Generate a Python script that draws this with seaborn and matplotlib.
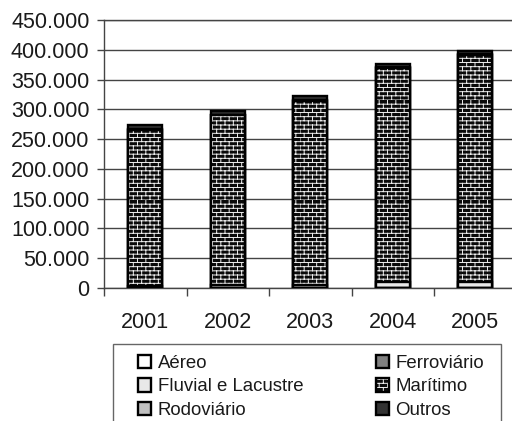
import warnings
import numpy as np
import matplotlib
matplotlib.use("Agg")
import matplotlib.pyplot as plt
import matplotlib.hatch as mhatch
from matplotlib.path import Path
from matplotlib.patches import Rectangle
from matplotlib.ticker import FuncFormatter, FixedLocator
import seaborn as sns

warnings.filterwarnings("ignore")

# ---- data (toneladas) ----
anos = ["2001", "2002", "2003", "2004", "2005"]
aereo = [200, 200, 200, 200, 200]
ferroviario = [500, 500, 500, 500, 500]
fluvial = [3000, 4000, 5000, 9000, 9000]
maritimo = [262000, 285000, 309000, 359000, 381000]
rodoviario = [1500, 1500, 1500, 2000, 2000]
outros = [6000, 6000, 6000, 6000, 6000]

series = [
    ("Aéreo", aereo, "#ffffff"),
    ("Ferroviário", ferroviario, "#808080"),
    ("Fluvial e Lacustre", fluvial, "#e8e8e8"),
    ("Marítimo", maritimo, "#0a0a0a"),
    ("Rodoviário", rodoviario, "#c0c0c0"),
    ("Outros", outros, "#333333"),
]
yticks = [0, 50000, 100000, 150000, 200000, 250000, 300000, 350000, 400000, 450000]


# brick texture used for the "Marítimo" series
class BrickHatch(mhatch.HatchPatternBase):
    def __init__(self, hatch, density):
        self.rows = 24 if "b" in hatch else 0
        self.cols = 12
        self.num_vertices = self.rows * (1 + self.cols) * 2

    def set_vertices_and_codes(self, vertices, codes):
        i = 0
        for r in range(self.rows):
            y0 = r / self.rows
            y1 = (r + 1) / self.rows
            vertices[i] = (0.0, y0)
            vertices[i + 1] = (1.0, y0)
            codes[i] = Path.MOVETO
            codes[i + 1] = Path.LINETO
            i += 2
            off = 0.5 / self.cols if r % 2 else 0.0
            for c in range(self.cols):
                x = c / self.cols + off
                vertices[i] = (x, y0)
                vertices[i + 1] = (x, y1)
                codes[i] = Path.MOVETO
                codes[i + 1] = Path.LINETO
                i += 2


mhatch._hatch_types.append(BrickHatch)

sns.set_theme(style="white")
plt.rcParams["font.family"] = ["Liberation Sans", "DejaVu Sans"]
plt.rcParams["hatch.linewidth"] = 0.7

fig = plt.figure(figsize=(5.12, 4.21), dpi=100)
ax = fig.add_axes([104 / 512, 1 - 288 / 421, 412.5 / 512, 268 / 421])

# stacked bars: draw cumulative totals from the top segment down
cum = np.cumsum([np.array(v, dtype=float) for _, v, _ in series], axis=0)
handles = {}
for k in range(len(series) - 1, -1, -1):
    name, _, col = series[k]
    n_before = len(ax.patches)
    sns.barplot(x=anos, y=cum[k], color=col, saturation=1, width=0.41,
                edgecolor="black", linewidth=1.7, errorbar=None, ax=ax)
    new = ax.patches[n_before:]
    for p in new:
        if name == "Marítimo":
            p.set_hatch("b")
            p._hatch_color = (0.93, 0.93, 0.93, 1.0)
        p.set_zorder(3 + (len(series) - k) * 0.01)
    handles[name] = new[0]

ax.set_xlim(-0.5, 4.5)
ax.set_ylim(0, 450000)
ax.yaxis.set_major_locator(FixedLocator(yticks))
ax.yaxis.set_major_formatter(FuncFormatter(lambda v, _: f"{int(v):,}".replace(",", ".")))
ax.set_xlabel("")
ax.set_ylabel("")

ax.set_axisbelow(True)
ax.grid(axis="y", color="#444444", linewidth=1.0, zorder=0)
ax.grid(axis="x", visible=False)
for side in ["top", "left", "bottom"]:
    ax.spines[side].set_visible(True)
    ax.spines[side].set_color("#444444")
    ax.spines[side].set_linewidth(1.0)
ax.spines["right"].set_visible(False)

ax.tick_params(axis="y", which="major", left=True, length=5, width=1.0,
               color="#444444", direction="out", pad=5.5, labelsize=15.5,
               labelcolor="#1a1a1a")
ax.tick_params(axis="x", which="major", bottom=True, length=0, pad=17,
               labelsize=15.5, labelcolor="#1a1a1a")
ax.set_xticks(np.arange(-0.5, 4.6, 1.0), minor=True)
ax.tick_params(axis="x", which="minor", bottom=True, length=6, width=1.0,
               color="#444444", direction="out")

# legend (two columns) with a plain frame running off the bottom edge
order = ["Aéreo", "Fluvial e Lacustre", "Rodoviário",
         "Ferroviário", "Marítimo", "Outros"]
leg = fig.legend([handles[n] for n in order], order, ncol=2, loc="upper left",
                 bbox_to_anchor=(138 / 512, 1 - 355 / 421), frameon=False,
                 borderpad=0, borderaxespad=0, fontsize=13.4,
                 handlelength=0.72, handleheight=0.72, handletextpad=0.33,
                 labelspacing=0.33, columnspacing=3.9, labelcolor="#1a1a1a")
fig.patches.append(Rectangle((113 / 512, -0.05), 388 / 512, 1 - 344 / 421 + 0.05,
                             transform=fig.transFigure, fill=False,
                             edgecolor="#666666", linewidth=1.0))

fig.savefig("out.png", dpi=100)
